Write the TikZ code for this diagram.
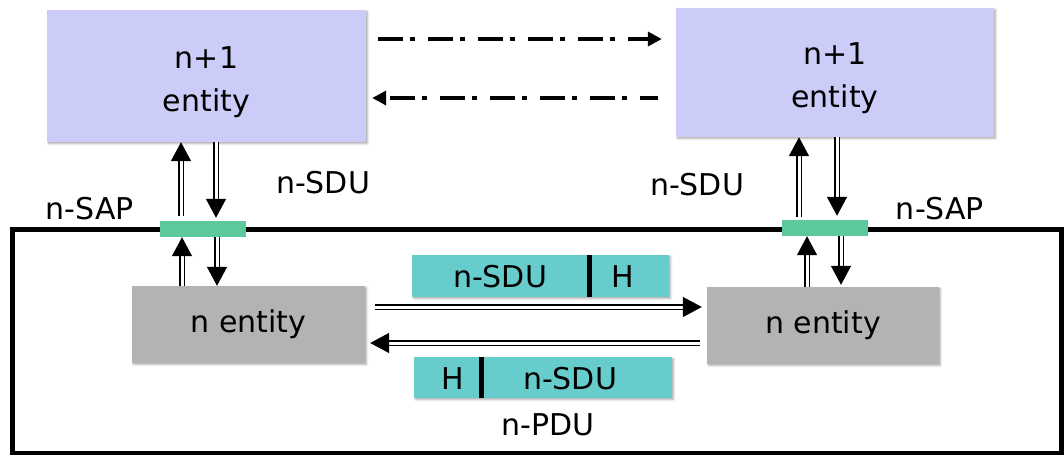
\documentclass[tikz,border=0pt]{standalone}
\usepackage{fontspec}
\setmainfont{DejaVu Sans}
\usetikzlibrary{arrows.meta,shadows.blur}

\definecolor{entityblue}{RGB}{204,204,249}
\definecolor{entitygray}{RGB}{179,179,179}
\definecolor{pduteal}{RGB}{102,204,204}
\definecolor{sapgreen}{RGB}{92,200,156}

\tikzset{
  bigfont/.style={font=\fontsize{30}{43}\selectfont},
  lbl/.style={bigfont, inner sep=0pt},
  box/.style={inner sep=0pt, draw=none,
    blur shadow={shadow xshift=1.5pt, shadow yshift=-1.5pt,
                 shadow blur radius=2pt, shadow opacity=35}},
  upperent/.style={box, fill=entityblue, minimum width=319pt,
    minimum height=132pt},
  lowerent/.style={box, fill=entitygray, minimum width=233pt,
    minimum height=77pt, bigfont},
  pdubox/.style={box, fill=pduteal, minimum width=257pt, minimum height=42pt},
  sapbar/.style={fill=sapgreen, minimum width=86pt, minimum height=16pt,
    inner sep=0pt},
  dbl/.style={double, line width=1.5pt, double distance=3pt,
    -{Triangle[length=19pt,width=20pt]}},
  dashdot/.style={line width=4.5pt, -{Triangle[length=14pt,width=14pt]}},
  sepline/.style={line width=5pt},
}

\begin{document}
\begin{tikzpicture}[x=1pt,y=-1pt]
\useasboundingbox (0,0) rectangle (1064,455);

% layer n boundary
\draw[line width=4.5pt] (12.5,229.5) rectangle (1061.5,453);

% (n+1) entities
\node[upperent] (p1) at (206.5,76) {};
\node[upperent, minimum width=318pt, minimum height=129pt] (p2) at (835,72.5) {};
\node[lbl, align=center] (p1txt) at ([yshift=-6pt]p1.center) {n+1\\entity};
\node[lbl, align=center] (p2txt) at ([yshift=-6pt]p2.center) {n+1\\entity};

% service access points
\node[sapbar] (sapL) at (203,229) {};
\node[sapbar] (sapR) at (825,228) {};

% n entities
\node[lowerent] (nL) at (248.5,324.5) {n entity};
\node[lowerent, minimum width=232pt] (nR) at (823,325.5) {n entity};

% protocol data units
\node[pdubox] (pduT) at (540.5,276) {};
\node[pdubox, minimum width=258pt, minimum height=41pt] (pduB) at (543,377.5) {};
\draw[sepline] (pduT.north -| 589,0) -- (pduT.south -| 589,0);
\draw[sepline] (pduB.north -| 481,0) -- (pduB.south -| 481,0);
\node[lbl] (sduT) at (500,277) {n-SDU};
\node[lbl] (hT) at (623,277) {H};
\node[lbl] (hB) at (453,379) {H};
\node[lbl] (sduB) at (570,379) {n-SDU};

% labels
\node[lbl] (sduL) at (323,183) {n-SDU};
\node[lbl] (sduR) at (697,185) {n-SDU};
\node[lbl] (sapLlbl) at (90,209) {n-SAP};
\node[lbl] (sapRlbl) at (940,209) {n-SAP};
\node[lbl] (pdulbl) at (548,425) {n-PDU};

% peer-to-peer (virtual) communication
\draw[dashdot, dash pattern=on 25pt off 7pt on 5pt off 13pt, shorten <=12pt, shorten >=14pt]
  (p1.east |- 0,39) -- (p2.west |- 0,39);
\draw[dashdot, dash pattern=on 25pt off 13pt on 5pt off 7pt, dash phase=7pt, shorten <=18pt, shorten >=6pt]
  (p2.west |- 0,98) -- (p1.east |- 0,98);

% service primitives across the left SAP
\draw[dbl, shorten <=5pt] (sapL.north -| 181,0) -- (p1.south -| 181,0);
\draw[dbl, shorten >=3pt] (p1.south -| 216,0) -- (sapL.north -| 216,0);
\draw[dbl] (nL.north -| 182,0) -- (sapL.south -| 182,0);
\draw[dbl] (sapL.south -| 217,0) -- (nL.north -| 217,0);

% service primitives across the right SAP
\draw[dbl, shorten <=3pt] (sapR.north -| 799,0) -- (p2.south -| 799,0);
\draw[dbl, shorten >=4pt] (p2.south -| 837,0) -- (sapR.north -| 837,0);
\draw[dbl] (nR.north -| 807,0) -- (sapR.south -| 807,0);
\draw[dbl, shorten >=2pt] (sapR.south -| 841,0) -- (nR.north -| 841,0);

% PDU exchange between n entities
\draw[dbl, shorten <=10pt, shorten >=5pt] (nL.east |- 0,307) -- (nR.west |- 0,307);
\draw[dbl, shorten <=7pt, shorten >=5pt] (nR.west |- 0,343) -- (nL.east |- 0,343);
\end{tikzpicture}
\end{document}
